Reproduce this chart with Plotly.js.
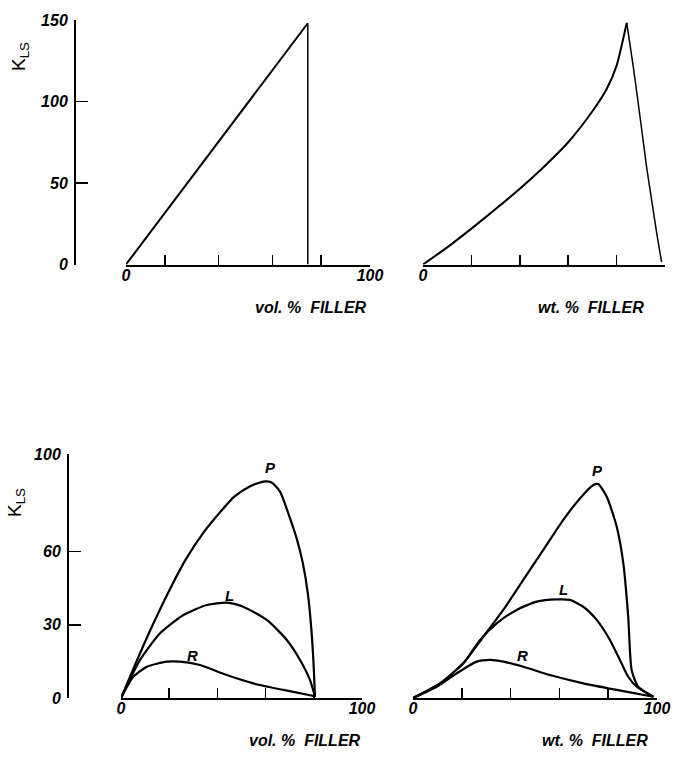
<!DOCTYPE html>
<html><head><meta charset="utf-8">
<script src="https://cdn.plot.ly/plotly-3.0.1.min.js"></script>
<style>html,body{margin:0;padding:0;background:#fff}</style>
</head><body><div id="chart" style="width:673px;height:764px"></div>
<script>
// ---- Top-left: K_LS vs vol.% filler ----
const tlX = [0, 74.5, 74.5];
const tlY = [0, 148, 0];
// ---- Top-right: K_LS vs wt.% filler ----
const trRiseX = [0, 10, 20, 30, 40, 50, 60, 70, 76, 80, 84.2];
const trRiseY = [0, 10.5, 22, 34, 46.5, 60, 75, 94, 108, 122, 148.3];
const trFallX = [84.2, 86.9, 89.7, 92.4, 94.5, 96.6, 98.6];
const trFallY = [148.3, 121.3, 90.5, 59.8, 39.3, 18.9, 1.4];
// ---- Bottom-left: vol.% filler, curves P, L, R ----
const blPX = [0, 6, 12.7, 20, 27, 34, 41, 47, 53, 59, 62.5, 66, 70, 73, 75.5, 77.5, 79, 80, 80.5];
const blPY = [0, 14, 29, 44, 57, 67.5, 76, 82.5, 86.5, 88.7, 88.3, 84.6, 74, 65, 55, 43, 28, 12, 0.5];
const blLX = [0, 7.9, 16.2, 25.9, 35.6, 43.9, 50.7, 60.5, 68.8, 74.3, 78.4, 80.5];
const blLY = [0, 15.6, 26.5, 34, 38.1, 39.1, 37.4, 32, 23.8, 15.6, 7.4, 0.5];
const blRX = [0, 5.1, 10.7, 19, 24.5, 32.8, 43.9, 54.9, 67.4, 80.5];
const blRY = [0, 8.7, 12.8, 14.9, 14.9, 13.5, 9.4, 6, 3.3, 0.7];
// ---- Bottom-right: wt.% filler, curves P, L, R ----
const brPX = [0, 11.1, 20.6, 28.8, 37, 45.2, 53.4, 61.6, 68.4, 73.9, 75.9, 79.4, 83.5, 86.2, 88.2, 89.6, 92.3, 98.5];
const brPY = [0, 6, 14.2, 25.1, 36.1, 48.4, 60.7, 73, 81.8, 87.3, 87.7, 82.5, 70.2, 55.2, 33.3, 11.5, 4.6, 0.5];
const brLX = [0, 11.1, 20.6, 27.5, 34.3, 42.5, 50.7, 58.9, 64.3, 69.8, 75.3, 80.7, 84.8, 88.2, 91.7, 98.5];
const brLY = [0, 6, 14.2, 23.8, 30.6, 36.1, 39.5, 40.4, 40.2, 37.4, 32, 23.8, 15.6, 8.7, 4.6, 0.5];
const brRX = [0, 9.7, 17.9, 26.1, 31.6, 37, 45.2, 56.1, 69.8, 83.5, 98.5];
const brRY = [0, 4.6, 10.1, 14.9, 15.6, 14.9, 12.8, 9.4, 6, 3.3, 0.5];
// ---- tick labels ----
const xTickVals = [0, 100];
const xTickText = ['0', '100'];
const xMinorVals = [20, 40, 60, 80];
const xMinorValsTL = [16, 38, 60, 80];
const yTickTop = [0, 50, 100, 150];
const yTickBottom = [0, 30, 60, 100];
const curveNames = ['P', 'L', 'R'];
const volTitle = 'vol. %\u00a0 FILLER';
const wtTitle = 'wt. %\u00a0 FILLER';
const yTitle = 'K<sub>LS</sub>';

const W = 673, H = 764;
const fx = p => p / W;
const fy = p => 1 - p / H;

const FAM = 'Liberation Sans, Arial, sans-serif';
const lblFont = {family: FAM, size: 16, color: '#000', weight: 'bold', style: 'italic'};

function line(x, y, xa, ya, w, shape) {
  return {x: x, y: y, xaxis: xa, yaxis: ya, type: 'scatter', mode: 'lines',
    line: {color: '#000', width: w, shape: shape || 'linear', smoothing: 0.6}, hoverinfo: 'skip', showlegend: false};
}

const data = [
  line([tlX[0], tlX[1]], [tlY[0], tlY[1]], 'x', 'y', 2),
  line([tlX[1], tlX[2]], [tlY[1], tlY[2]], 'x', 'y', 1.5),
  line(trRiseX, trRiseY, 'x2', 'y2', 2, 'spline'),
  line(trFallX, trFallY, 'x2', 'y2', 1.5, 'spline'),
  line(blPX, blPY, 'x3', 'y3', 2.2, 'spline'),
  line(blLX, blLY, 'x3', 'y3', 2.2, 'spline'),
  line(blRX, blRY, 'x3', 'y3', 2.2, 'spline'),
  line(brPX, brPY, 'x4', 'y4', 2.2, 'spline'),
  line(brLX, brLY, 'x4', 'y4', 2.2, 'spline'),
  line(brRX, brRY, 'x4', 'y4', 2.2, 'spline')
];

function xax(d0, d1, anchor, minorVals) {
  return {domain: [fx(d0), fx(d1)], anchor: anchor, range: [0, 100], showline: true, linecolor: '#000', linewidth: 2,
    ticks: 'inside', ticklen: 10, tickwidth: 1.5, tickcolor: '#000', tickvals: xTickVals, ticktext: xTickText,
    minor: {tickvals: minorVals, ticks: 'inside', ticklen: 10, tickwidth: 1.5, tickcolor: '#000', showgrid: false},
    tickfont: lblFont, showgrid: false, zeroline: false, fixedrange: true, ticklabelstandoff: -5};
}
function yax(p0, p1, rng, pos, tv) {
  return {domain: [fy(p0), fy(p1)], range: rng, anchor: 'free', position: fx(pos), showline: true, linecolor: '#000', linewidth: 2,
    ticks: 'inside', ticklen: 12, tickwidth: 1.5, tickcolor: '#000', tickvals: tv,
    tickfont: lblFont, showgrid: false, zeroline: false, fixedrange: true, ticklabelstandoff: 3};
}
function yhid(p0, p1, rng) {
  return {domain: [fy(p0), fy(p1)], range: rng, visible: false, anchor: 'free', position: 0, fixedrange: true};
}

const ann = [];
function txt(text, x, y, size) {
  ann.push({text: text, x: x, y: y, xref: 'paper', yref: 'paper', showarrow: false,
    xanchor: 'center', yanchor: 'middle',
    font: {family: FAM, size: size, color: '#000', weight: 'bold', style: 'italic'}});
}
txt(volTitle, fx(311), fy(307), 16);
txt(wtTitle, fx(591), fy(307), 16);
txt(volTitle, fx(305), fy(740), 16);
txt(wtTitle, fx(595), fy(740), 16);
ann.push({text: yTitle, x: fx(20), y: fy(57), xref: 'paper', yref: 'paper', showarrow: false, textangle: -90,
  xanchor: 'center', yanchor: 'middle', font: {family: FAM, size: 19, color: '#000'}});
ann.push({text: yTitle, x: fx(16), y: fy(503), xref: 'paper', yref: 'paper', showarrow: false, textangle: -90,
  xanchor: 'center', yanchor: 'middle', font: {family: FAM, size: 19, color: '#000'}});
// curve labels in data coordinates
const blLab = [[62.2, 94.3], [45.2, 42.2], [29.5, 17.6]];
const brLab = [[75.8, 93.4], [61.5, 44.3], [44.7, 17.6]];
curveNames.forEach((n, i) => {
  ann.push({text: n, x: blLab[i][0], y: blLab[i][1], xref: 'x3', yref: 'y3', showarrow: false,
    font: {family: FAM, size: 15, color: '#000', weight: 'bold', style: 'italic'}});
  ann.push({text: n, x: brLab[i][0], y: brLab[i][1], xref: 'x4', yref: 'y4', showarrow: false,
    font: {family: FAM, size: 15, color: '#000', weight: 'bold', style: 'italic'}});
});

const layout = {
  width: W, height: H, margin: {l: 0, r: 0, t: 0, b: 0}, paper_bgcolor: '#fff', plot_bgcolor: 'rgba(0,0,0,0)',
  showlegend: false,
  xaxis: xax(126, 370, 'y', xMinorValsTL),
  yaxis: yax(264.5, 20, [0, 150], 75, yTickTop),
  xaxis2: xax(423, 665, 'y2', xMinorVals),
  yaxis2: yhid(264.5, 20, [0, 150]),
  xaxis3: xax(121, 362, 'y3', xMinorVals),
  yaxis3: yax(698, 454, [0, 100], 68, yTickBottom),
  xaxis4: xax(413, 657, 'y4', xMinorVals),
  yaxis4: yhid(698, 454, [0, 100]),
  annotations: ann
};
Plotly.newPlot('chart', data, layout, {displayModeBar: false, staticPlot: true});
</script></body></html>
